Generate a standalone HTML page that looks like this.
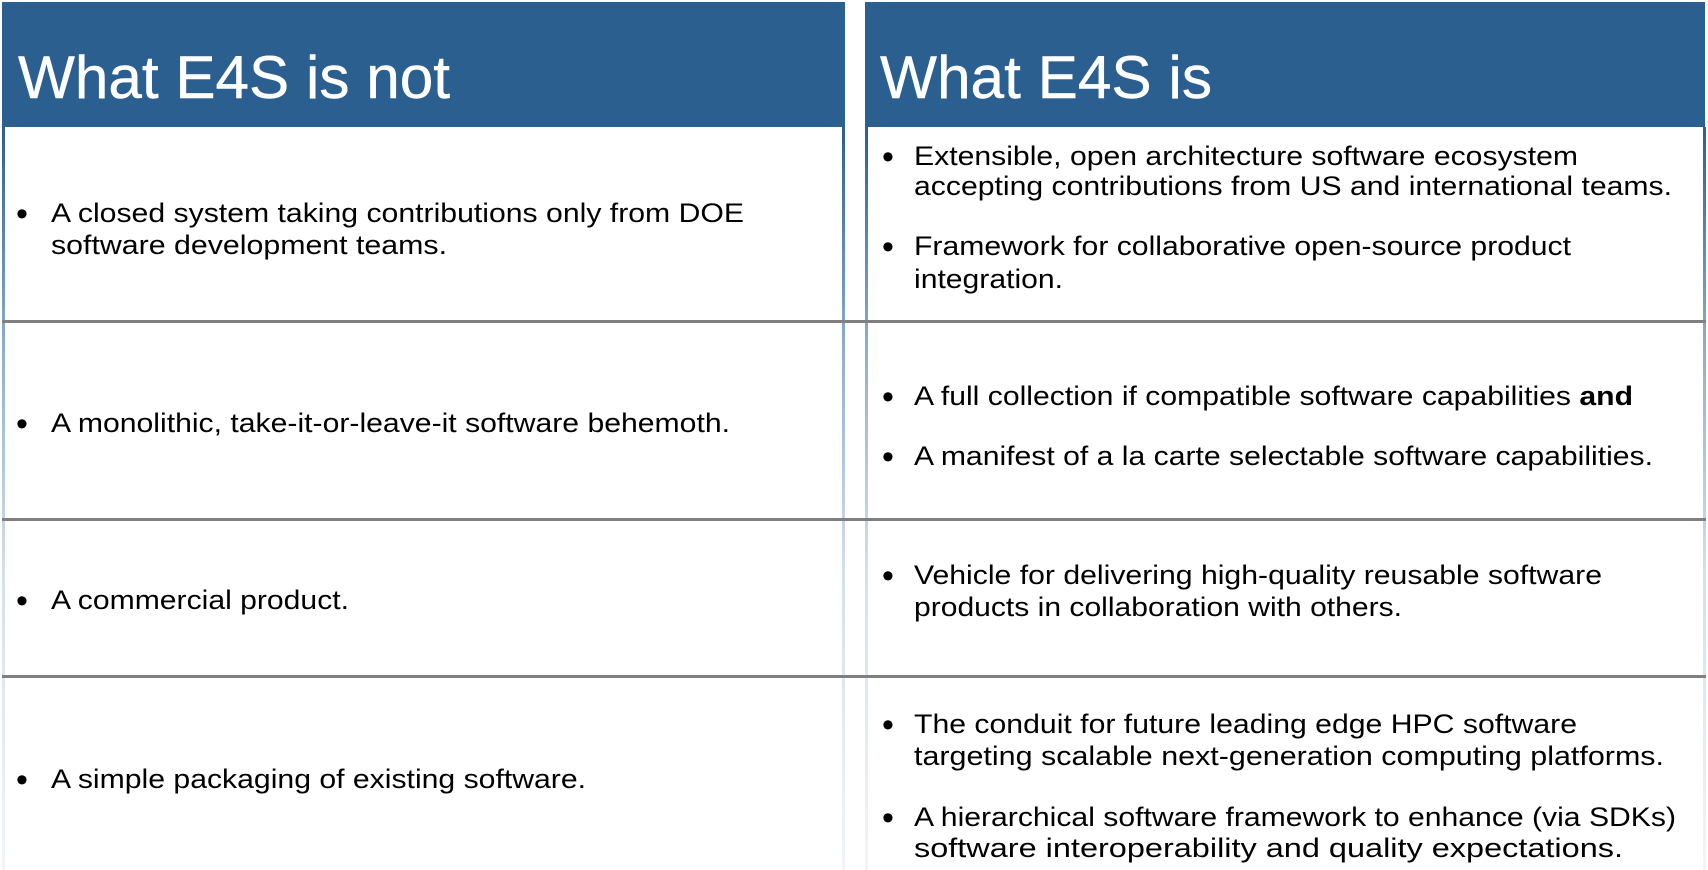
<!DOCTYPE html>
<html><head><meta charset="utf-8"><style>
html,body{margin:0;padding:0;background:#fff;width:1708px;height:870px;overflow:hidden}
svg{display:block}
text{font-family:"Liberation Sans",Arial,sans-serif;fill:#000}
</style></head><body>
<svg width="1708" height="870" viewBox="0 0 1708 870" xmlns="http://www.w3.org/2000/svg">
<defs>
<linearGradient id="g" x1="0" y1="0" x2="0" y2="1">
<stop offset="0" stop-color="#2b5f8f"/><stop offset="0.3" stop-color="#8fb0c9"/><stop offset="0.6" stop-color="#d4e0ea"/><stop offset="1" stop-color="#f2f5f8"/>
</linearGradient>
</defs>
<rect x="0" y="0" width="1708" height="870" fill="#fff"/>
<rect x="2" y="2" width="843" height="125" fill="#2b5f8f"/>
<rect x="865" y="2" width="840" height="125" fill="#2b5f8f"/>
<rect x="2" y="127" width="3" height="743" fill="url(#g)"/>
<rect x="842" y="127" width="3" height="743" fill="url(#g)"/>
<rect x="865" y="127" width="3" height="743" fill="url(#g)"/>
<rect x="1703" y="127" width="3" height="743" fill="url(#g)"/>
<rect x="2" y="320" width="1704" height="3" fill="#808080"/>
<rect x="2" y="518" width="1704" height="3" fill="#808080"/>
<rect x="2" y="675" width="1704" height="3" fill="#808080"/>
<text x="18" y="98" font-size="60" style="fill:#fff;stroke:#fff;stroke-width:0.4" textLength="432" lengthAdjust="spacingAndGlyphs">What E4S is not</text>
<text x="880" y="98" font-size="60" style="fill:#fff;stroke:#fff;stroke-width:0.4" textLength="332" lengthAdjust="spacingAndGlyphs">What E4S is</text>
<g font-size="27">
<g font-size="34">
<text x="16" y="225">•</text>
<text x="16" y="435">•</text>
<text x="16" y="612">•</text>
<text x="16" y="791">•</text>
<text x="882" y="168">•</text>
<text x="882" y="258">•</text>
<text x="882" y="408">•</text>
<text x="882" y="468">•</text>
<text x="882" y="587">•</text>
<text x="882" y="736">•</text>
<text x="882" y="829">•</text>
</g>
<text x="51" y="222" textLength="693" lengthAdjust="spacingAndGlyphs">A closed system taking contributions only from DOE</text>
<text x="51" y="254" textLength="396" lengthAdjust="spacingAndGlyphs">software development teams.</text>
<text x="51" y="432" textLength="679" lengthAdjust="spacingAndGlyphs">A monolithic, take-it-or-leave-it software behemoth.</text>
<text x="51" y="609" textLength="298" lengthAdjust="spacingAndGlyphs">A commercial product.</text>
<text x="51" y="788" textLength="535" lengthAdjust="spacingAndGlyphs">A simple packaging of existing software.</text>

<text x="914" y="165" textLength="664" lengthAdjust="spacingAndGlyphs">Extensible, open architecture software ecosystem</text>
<text x="914" y="195" textLength="758" lengthAdjust="spacingAndGlyphs">accepting contributions from US and international teams.</text>
<text x="914" y="255" textLength="657" lengthAdjust="spacingAndGlyphs">Framework for collaborative open-source product</text>
<text x="914" y="288" textLength="149" lengthAdjust="spacingAndGlyphs">integration.</text>
<text x="914" y="405" textLength="719" lengthAdjust="spacingAndGlyphs">A full collection if compatible software capabilities <tspan font-weight="bold">and</tspan></text>
<text x="914" y="465" textLength="739" lengthAdjust="spacingAndGlyphs">A manifest of a la carte selectable software capabilities.</text>
<text x="914" y="584" textLength="688" lengthAdjust="spacingAndGlyphs">Vehicle for delivering high-quality reusable software</text>
<text x="914" y="616" textLength="488" lengthAdjust="spacingAndGlyphs">products in collaboration with others.</text>
<text x="914" y="733" textLength="663" lengthAdjust="spacingAndGlyphs">The conduit for future leading edge HPC software</text>
<text x="914" y="765" textLength="750" lengthAdjust="spacingAndGlyphs">targeting scalable next-generation computing platforms.</text>
<text x="914" y="826" textLength="762" lengthAdjust="spacingAndGlyphs">A hierarchical software framework to enhance (via SDKs)</text>
<text x="914" y="857" textLength="709" lengthAdjust="spacingAndGlyphs">software interoperability and quality expectations.</text>
</g>
</svg>
</body></html>
